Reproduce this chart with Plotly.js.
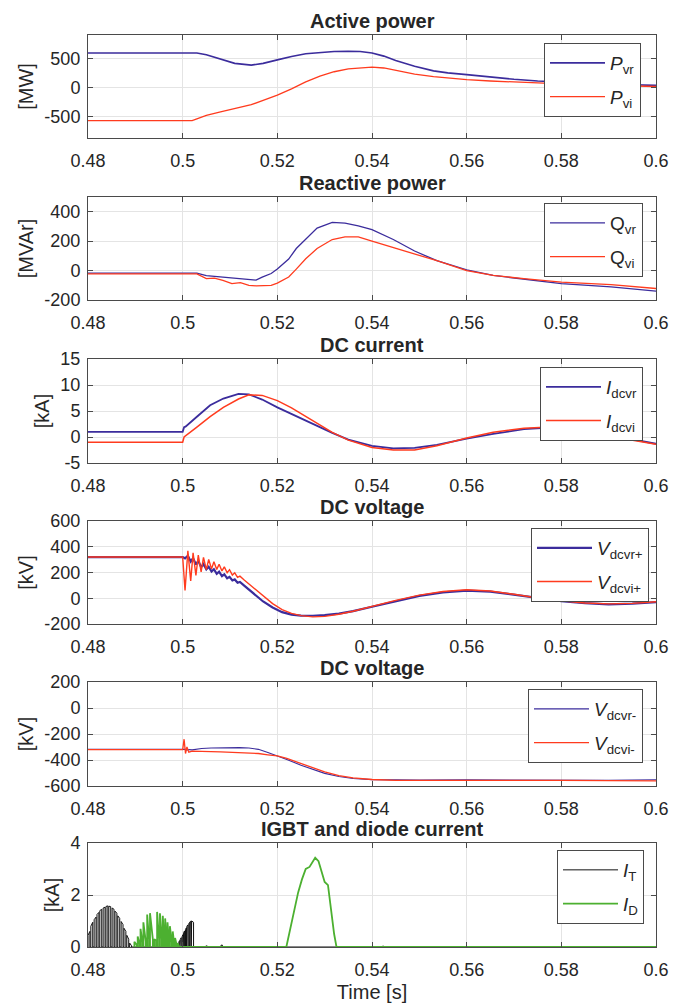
<!DOCTYPE html>
<html><head><meta charset="utf-8">
<script src="https://cdn.plot.ly/plotly-3.0.1.min.js"></script>
<style>html,body{margin:0;padding:0;background:#fff;}#chart{width:684px;height:1003px;}</style>
</head><body><div id="chart"></div>
<script>
// ---------- data ----------
const xTickVals = [0.48, 0.5, 0.52, 0.54, 0.56, 0.58, 0.6];
const xTickText = ['0.48', '0.5', '0.52', '0.54', '0.56', '0.58', '0.6'];

const panelTitles = ['Active power', 'Reactive power', 'DC current', 'DC voltage', 'DC voltage', 'IGBT and diode current'];
const yUnits = ['[MW]', '[MVAr]', '[kA]', '[kV]', '[kV]', '[kA]'];
const yRanges = [[-870, 910], [-200, 500], [-5, 15], [-200, 600], [-600, 200], [0, 4]];
const yTickVals = [[-500, 0, 500], [-200, 0, 200, 400], [-5, 0, 5, 10, 15], [-200, 0, 200, 400, 600], [-600, -400, -200, 0, 200], [0, 2, 4]];
const yTickText = [['-500', '0', '500'], ['-200', '0', '200', '400'], ['-5', '0', '5', '10', '15'], ['-200', '0', '200', '400', '600'], ['-600', '-400', '-200', '0', '200'], ['0', '2', '4']];

// Active power
const tP  = [0.48, 0.502, 0.503, 0.505, 0.508, 0.511, 0.5145, 0.517, 0.52, 0.523, 0.526, 0.529, 0.532, 0.535, 0.5375, 0.54, 0.5425, 0.545, 0.549, 0.553, 0.556, 0.56, 0.565, 0.57, 0.575, 0.58, 0.585, 0.59, 0.595, 0.6];
const Pvr = [600, 600, 598, 570, 490, 420, 390, 420, 480, 540, 585, 610, 625, 630, 625, 600, 545, 470, 370, 290, 255, 225, 180, 145, 115, 95, 75, 60, 50, 40];
const Pvi = [-570, -570, -540, -480, -420, -360, -295, -220, -130, -20, 100, 200, 275, 325, 345, 355, 340, 295, 235, 190, 165, 140, 115, 95, 80, 65, 50, 40, 30, 20];

// Reactive power
const tQ  = [0.48, 0.503, 0.505, 0.5067, 0.5085, 0.5104, 0.5122, 0.514, 0.5155, 0.5168, 0.5187, 0.52, 0.5212, 0.5224, 0.524, 0.526, 0.5284, 0.5316, 0.5343, 0.5371, 0.54, 0.5445, 0.549, 0.5537, 0.56, 0.5656, 0.5721, 0.58, 0.5905, 0.6];
const Qvr = [-18, -18, -35, -40, -45, -55, -60, -63, -65, -45, -20, 10, 45, 78, 150, 211, 289, 327, 322, 304, 278, 211, 133, 67, 4, -33, -60, -89, -111, -140];
const Qvi = [-22, -22, -55, -51, -67, -89, -82, -100, -104, -104, -100, -85, -67, -44, 10, 80, 150, 211, 229, 229, 200, 156, 111, 67, 0, -33, -55, -78, -96, -122];

// DC current
const tI    = [0.48, 0.5, 0.5003, 0.5006, 0.503, 0.5058, 0.5086, 0.5118, 0.514, 0.5168, 0.52, 0.523, 0.526, 0.529, 0.5316, 0.535, 0.54, 0.5445, 0.549, 0.5537, 0.56, 0.5656, 0.5721, 0.5776, 0.584, 0.5905, 0.6];
const Idcvr = [1, 1, 1.9, 2.0, 3.9, 6.1, 7.4, 8.3, 8.2, 7.2, 5.7, 4.4, 3.1, 1.9, 0.8, -0.5, -1.7, -2.2, -2.1, -1.5, -0.3, 0.6, 1.5, 1.8, 1.3, 0.3, -1.3];
const Idcvi = [-1, -1, 0, 0.2, 1.9, 3.9, 5.7, 7.3, 8.1, 8.0, 7.0, 5.6, 4.0, 2.4, 0.9, -0.6, -2.0, -2.5, -2.5, -1.7, -0.2, 0.9, 1.7, 1.9, 1.3, 0.1, -1.4];

// DC voltage (+)
const tVp   = [0.48, 0.5, 0.5005, 0.5011, 0.5017, 0.5022, 0.5028, 0.5033, 0.5039, 0.5044, 0.505, 0.5055, 0.5061, 0.5066, 0.5072, 0.5077, 0.5083, 0.5088, 0.5094, 0.5099, 0.5105, 0.511, 0.5116, 0.5121, 0.513, 0.515, 0.517, 0.519, 0.521, 0.523, 0.525, 0.5275, 0.53, 0.533, 0.536, 0.54, 0.545, 0.55, 0.555, 0.56, 0.565, 0.57, 0.575, 0.58, 0.585, 0.59, 0.595, 0.6];
const Vdcvrp = [320, 320, 310, 330, 285, 312, 262, 290, 242, 266, 225, 245, 208, 226, 190, 206, 172, 186, 155, 166, 138, 146, 120, 126, 98, 35, -25, -72, -108, -127, -135, -136, -131, -119, -100, -66, -22, 18, 45, 60, 52, 28, 3, -22, -38, -47, -42, -30];
const Vdcvip = [320, 320, 60, 368, 135, 352, 178, 335, 205, 318, 222, 302, 228, 284, 224, 264, 212, 244, 198, 222, 180, 198, 162, 172, 142, 82, 18, -42, -88, -117, -135, -145, -141, -124, -101, -61, -16, 24, 52, 66, 56, 31, 2, -20, -37, -44, -40, -27];

// DC voltage (-)
const tVn    = [0.48, 0.5, 0.5003, 0.5006, 0.5009, 0.5013, 0.502, 0.504, 0.506, 0.508, 0.51, 0.512, 0.514, 0.516, 0.518, 0.52, 0.522, 0.525, 0.528, 0.53, 0.533, 0.536, 0.54, 0.545, 0.55, 0.56, 0.57, 0.58, 0.59, 0.6];
const Vdcvrn = [-318, -318, -322, -318, -325, -320, -322, -312, -308, -306, -305, -305, -308, -318, -342, -368, -396, -440, -480, -503, -527, -542, -551, -554, -554, -553, -554, -557, -556, -552];
const Vdcvin = [-320, -320, -240, -350, -300, -340, -332, -336, -335, -337, -340, -342, -345, -350, -360, -369, -388, -428, -468, -492, -520, -538, -550, -556, -556, -555, -556, -557, -558, -560];

// IGBT current pulses (start, end, height at start, height at end)
const itStart = [0.4800, 0.4806, 0.4813, 0.4819, 0.4825, 0.4832, 0.4838, 0.4844, 0.4851, 0.4857, 0.4863, 0.4870, 0.4876, 0.4882, 0.4888,
                 0.4992, 0.4995, 0.4999, 0.5002, 0.5006, 0.5009, 0.5013, 0.5016, 0.5019, 0.5049, 0.5081, 0.5422];
const itEnd   = [0.4804, 0.4810, 0.4817, 0.4823, 0.4829, 0.4836, 0.4842, 0.4848, 0.4855, 0.4861, 0.4867, 0.4874, 0.4880, 0.4886, 0.4892,
                 0.4994, 0.4997, 0.5001, 0.5004, 0.5008, 0.5011, 0.5015, 0.5018, 0.5023, 0.5052, 0.5084, 0.5425];
const itH0    = [0.45, 0.8, 1.05, 1.25, 1.4, 1.5, 1.56, 1.57, 1.5, 1.38, 1.2, 0.98, 0.72, 0.45, 0.15,
                 0.2, 0.3, 0.42, 0.55, 0.68, 0.8, 0.9, 0.98, 1.0, 0.04, 0.07, 0.03];
const itH1    = [0.6, 0.95, 1.15, 1.33, 1.45, 1.53, 1.58, 1.55, 1.45, 1.3, 1.1, 0.86, 0.6, 0.3, 0.05,
                 0.25, 0.36, 0.48, 0.62, 0.74, 0.85, 0.95, 1.0, 0.95, 0.04, 0.07, 0.03];
// Diode current pulses
const idStart = [0.4898, 0.4905, 0.4911, 0.4917, 0.4925, 0.4931, 0.4940, 0.4946, 0.4952, 0.4958, 0.4963, 0.4968, 0.4973, 0.4979, 0.4984, 0.4989];
const idEnd   = [0.4903, 0.4909, 0.4915, 0.4922, 0.4929, 0.4937, 0.4944, 0.4950, 0.4956, 0.4961, 0.4966, 0.4971, 0.4977, 0.4982, 0.4987, 0.4992];
const idH0    = [0.2, 0.4, 0.7, 0.95, 1.25, 1.3, 0.3, 1.35, 1.3, 1.2, 1.1, 0.95, 0.8, 0.6, 0.35, 0.15];
const idH1    = [0.08, 0.12, 0.18, 0.22, 0.28, 0.3, 0.25, 0.32, 0.3, 0.28, 0.26, 0.22, 0.18, 0.14, 0.1, 0.05];
// Diode current main pulse
const tDmain = [0.5219, 0.5228, 0.5236, 0.5244, 0.5252, 0.526, 0.5268, 0.5275, 0.528, 0.5287, 0.5293, 0.53, 0.5307, 0.5313, 0.532, 0.5325];
const iDmain = [0, 0.8, 1.45, 2.1, 2.6, 3.0, 3.08, 3.3, 3.43, 3.3, 2.9, 2.5, 2.38, 1.5, 0.5, 0];
const tRange = [0.48, 0.6];

// ---------- build ----------
function pulses(s, e, h0, h1) {
  const x = [], y = [];
  for (let i = 0; i < s.length; i++) {
    x.push(s[i], s[i], e[i], e[i]);
    y.push(0, h0[i], h1[i], 0);
  }
  return {x, y};
}
const pT = pulses(itStart, itEnd, itH0, itH1);
const pD = pulses(idStart, idEnd, idH0, idH1);
const iTx = pT.x.concat([tRange[1]]), iTy = pT.y.concat([0]);
const iDx = pD.x.concat(tDmain, [tRange[1]]), iDy = pD.y.concat(iDmain, [0]);

const BLUE = '#3b2c9c', RED = '#ff3b1e', GREEN = '#4cb030', BLACK = '#111111';
const FONT = 'Liberation Sans, Arial, Helvetica, sans-serif';
const W = 684, H = 1003, ML = 88, MR = 28;
const frames = [[35, 138], [197, 300], [359, 463], [521, 624], [682, 786], [843, 947]];
const legendPos = [[641, 43], [643, 203], [643, 367], [649, 528], [643, 689], [644, 850]];
const fy = p => 1 - p / H;
const fx = p => (p - ML) / (W - ML - MR);

function tr(x, y, k, name, color, width) {
  const s = k === 0 ? '' : String(k + 1);
  return {x, y, type: 'scatter', mode: 'lines', name, xaxis: 'x' + s, yaxis: 'y' + s,
    line: {color, width}, legend: 'legend' + s, legendgroup: name};
}
const traces = [
  tr(tP, Pvr, 0, '<i>P</i><sub>vr</sub>', BLUE, 1.6),
  tr(tP, Pvi, 0, '<i>P</i><sub>vi</sub>', RED, 1.3),
  tr(tQ, Qvr, 1, 'Q<sub>vr</sub>', BLUE, 1.3),
  tr(tQ, Qvi, 1, 'Q<sub>vi</sub>', RED, 1.3),
  tr(tI, Idcvr, 2, '<i>I</i><sub>dcvr</sub>', BLUE, 1.8),
  tr(tI, Idcvi, 2, '<i>I</i><sub>dcvi</sub>', RED, 1.5),
  tr(tVp, Vdcvrp, 3, '<i>V</i><sub>dcvr+</sub>', BLUE, 2.2),
  tr(tVp, Vdcvip, 3, '<i>V</i><sub>dcvi+</sub>', RED, 1.4),
  tr(tVn, Vdcvrn, 4, '<i>V</i><sub>dcvr-</sub>', BLUE, 1.1),
  tr(tVn, Vdcvin, 4, '<i>V</i><sub>dcvi-</sub>', RED, 1.3),
  tr(iTx, iTy, 5, '<i>I</i><sub>T</sub>', BLACK, 1),
  tr(iDx, iDy, 5, '<i>I</i><sub>D</sub>', GREEN, 1.8)
];

const layout = {
  width: W, height: H, margin: {l: ML, r: MR, t: 0, b: 0},
  paper_bgcolor: '#fff', plot_bgcolor: '#fff',
  font: {family: FONT, color: '#262626'},
  annotations: []
};
const axisCommon = {
  showline: true, linecolor: '#4a4a4a', linewidth: 1, mirror: 'ticks',
  ticks: 'inside', ticklen: 5, tickcolor: '#4a4a4a', tickwidth: 1,
  showgrid: true, gridcolor: '#e4e4e4', gridwidth: 1, zeroline: false,
  tickfont: {family: FONT, size: 18, color: '#262626'}, fixedrange: true
};
for (let k = 0; k < 6; k++) {
  const s = k === 0 ? '' : String(k + 1);
  layout['xaxis' + s] = Object.assign({}, axisCommon, {
    domain: [0, 1], anchor: 'y' + s, range: tRange,
    tickmode: 'array', tickvals: xTickVals, ticktext: xTickText, ticklabelstandoff: 6
  });
  layout['yaxis' + s] = Object.assign({}, axisCommon, {
    domain: [fy(frames[k][1]), fy(frames[k][0])], anchor: 'x' + s, range: yRanges[k],
    tickmode: 'array', tickvals: yTickVals[k], ticktext: yTickText[k], ticklabelstandoff: 3,
    title: {text: yUnits[k], font: {family: FONT, size: 20, color: '#262626'}, standoff: 5}
  });
  layout['legend' + s] = {
    x: fx(legendPos[k][0]), y: fy(legendPos[k][1]), xanchor: 'right', yanchor: 'top',
    xref: 'paper', yref: 'paper',
    bgcolor: '#ffffff', bordercolor: '#4a4a4a', borderwidth: 1,
    font: {family: FONT, size: 19, color: '#262626'},
    itemwidth: 55, tracegroupgap: 6
  };
  layout.annotations.push({
    text: '<b>' + panelTitles[k] + '</b>', xref: 'paper', yref: 'paper',
    x: 0.5, y: fy(frames[k][0] - 14), xanchor: 'center', yanchor: 'middle',
    showarrow: false, font: {family: FONT, size: 20, color: '#262626'}
  });
}
layout.xaxis6.title = {text: 'Time [s]', font: {family: FONT, size: 20, color: '#262626'}, standoff: 6};

Plotly.newPlot('chart', traces, layout, {displayModeBar: false, staticPlot: true});
</script>
</body></html>
